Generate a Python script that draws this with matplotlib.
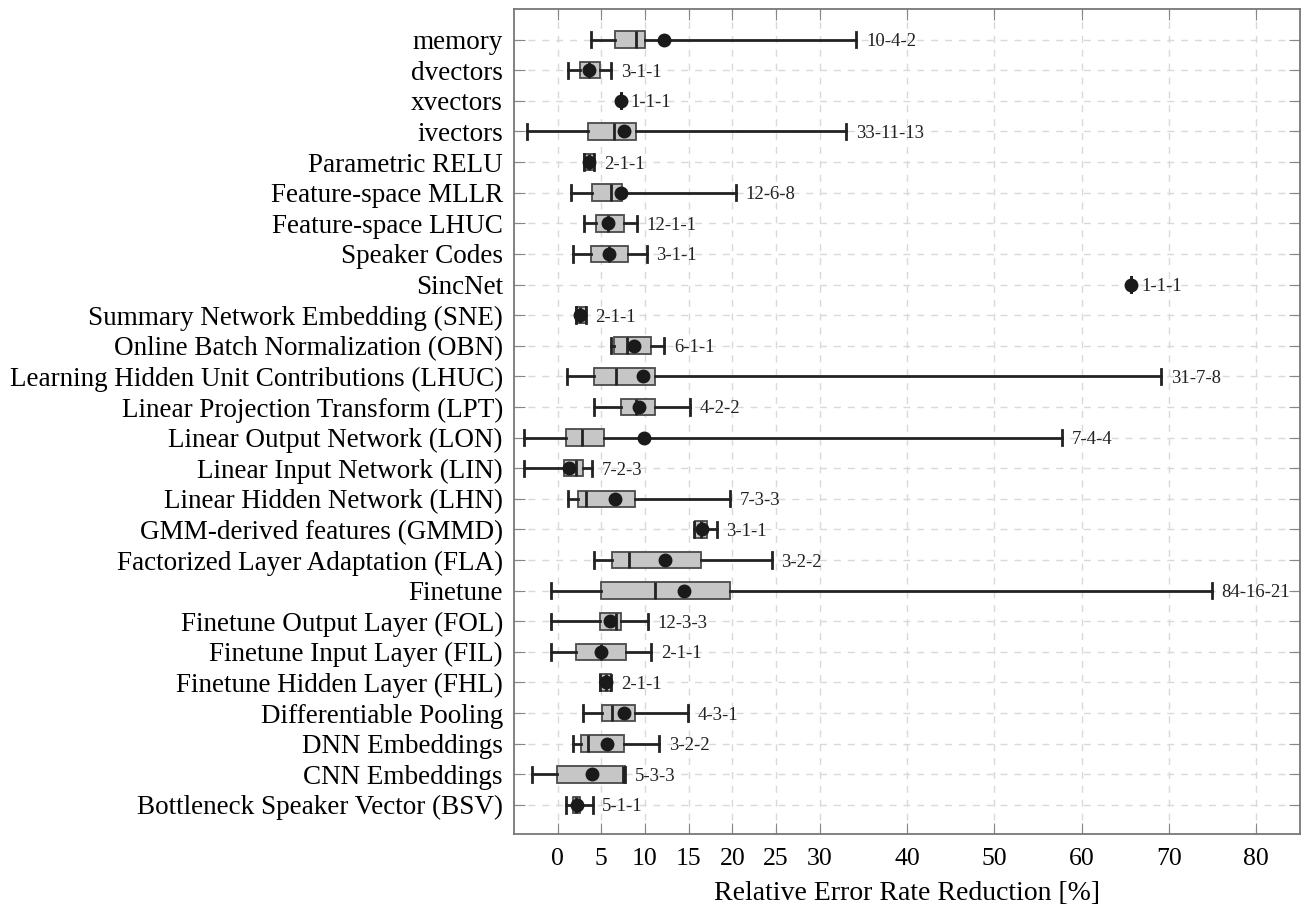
import matplotlib
matplotlib.use("Agg")
import matplotlib.pyplot as plt

categories = [
    "memory", "dvectors", "xvectors", "ivectors", "Parametric RELU",
    "Feature-space MLLR", "Feature-space LHUC", "Speaker Codes", "SincNet",
    "Summary Network Embedding (SNE)", "Online Batch Normalization (OBN)",
    "Learning Hidden Unit Contributions (LHUC)", "Linear Projection Transform (LPT)",
    "Linear Output Network (LON)", "Linear Input Network (LIN)",
    "Linear Hidden Network (LHN)", "GMM-derived features (GMMD)",
    "Factorized Layer Adaptation (FLA)", "Finetune", "Finetune Output Layer (FOL)",
    "Finetune Input Layer (FIL)", "Finetune Hidden Layer (FHL)",
    "Differentiable Pooling", "DNN Embeddings", "CNN Embeddings",
    "Bottleneck Speaker Vector (BSV)",
]
whislo = [3.8, 1.2, 7.2, -3.5, 3.0, 1.5, 3.0, 1.8, 65.7, 2.1, 6.1, 1.1, 4.2,
          -3.9, -3.9, 1.2, 15.6, 4.2, -0.8, -0.8, -0.8, 4.8, 2.9, 1.8, -2.9, 1.0]
q1 = [6.6, 2.5, 7.2, 3.5, 3.0, 3.9, 4.4, 3.8, 65.7, 2.1, 6.5, 4.2, 7.2,
      0.9, 0.7, 2.3, 15.7, 6.2, 5.0, 4.9, 2.1, 4.8, 5.1, 2.7, -0.1, 1.7]
med = [9.0, 3.6, 7.2, 6.5, 3.6, 6.1, 5.8, 5.9, 65.7, 2.6, 7.9, 6.7, 9.0,
       2.8, 2.1, 3.3, 16.4, 8.2, 11.1, 6.7, 5.0, 5.5, 6.2, 3.5, 7.5, 2.1]
q3 = [10.0, 4.9, 7.2, 9.0, 4.2, 7.4, 7.6, 8.0, 65.7, 3.2, 10.7, 11.2, 11.1,
      5.3, 2.9, 8.8, 17.1, 16.4, 19.7, 7.3, 7.8, 6.1, 8.8, 7.6, 7.7, 2.5]
whishi = [34.2, 6.1, 7.2, 33.0, 4.2, 20.4, 9.1, 10.2, 65.7, 3.2, 12.2, 69.1, 15.1,
          57.7, 3.9, 19.7, 18.2, 24.5, 74.9, 10.3, 10.7, 6.1, 14.9, 11.6, 7.7, 4.0]
means = [12.2, 3.6, 7.2, 7.6, 3.6, 7.3, 5.8, 5.9, 65.7, 2.6, 8.7, 9.8, 9.3,
         9.9, 1.3, 6.6, 16.5, 12.3, 14.5, 6.0, 5.0, 5.5, 7.6, 5.7, 3.9, 2.2]
counts = ["10-4-2", "3-1-1", "1-1-1", "33-11-13", "2-1-1", "12-6-8", "12-1-1",
          "3-1-1", "1-1-1", "2-1-1", "6-1-1", "31-7-8", "4-2-2", "7-4-4", "7-2-3",
          "7-3-3", "3-1-1", "3-2-2", "84-16-21", "12-3-3", "2-1-1", "2-1-1",
          "4-3-1", "3-2-2", "5-3-3", "5-1-1"]
xticks = [0, 5, 10, 15, 20, 25, 30, 40, 50, 60, 70, 80]

plt.rcParams['font.family'] = ['Liberation Serif', 'DejaVu Serif']

fig = plt.figure(figsize=(13.06, 9.06), dpi=100)
ax = fig.add_axes([514/1306, 1-834/906, (1300-514)/1306, (834-9)/906])

n = len(categories)
positions = [n - i for i in range(n)]
stats = []
for i in range(n):
    stats.append(dict(whislo=whislo[i], q1=q1[i], med=med[i], q3=q3[i],
                      whishi=whishi[i], mean=means[i], fliers=[]))

ax.bxp(stats, positions=positions, orientation='horizontal', widths=0.54,
       capwidths=0.5, showmeans=True, patch_artist=True,
       boxprops=dict(facecolor='#c6c6c6', edgecolor='#4a4a4a', linewidth=1.3),
       medianprops=dict(color='#222222', linewidth=2.0),
       whiskerprops=dict(color='#222222', linewidth=2.0),
       capprops=dict(color='#222222', linewidth=2.0),
       meanprops=dict(marker='o', markerfacecolor='#1a1a1a', markeredgecolor='#1a1a1a',
                      markersize=9),
       zorder=3)

for i in range(n):
    ax.annotate(counts[i], xy=(whishi[i], positions[i]), xytext=(7, 0),
                textcoords='offset points', va='center_baseline', ha='left',
                fontsize=13.5, color='#222222', zorder=4)

ax.set_xlim(-5, 85)
ax.set_ylim(0.05, n + 1.0)
ax.set_xticks(xticks)
ax.set_xticklabels([str(t) for t in xticks], fontsize=18.5)
ax.set_yticks(positions)
ax.set_yticklabels(categories, fontsize=19.5)
ax.set_xlabel("Relative Error Rate Reduction [%]", fontsize=20, labelpad=8)

ax.grid(True, linestyle=(0, (5, 5)), color='#d9d9d9', linewidth=1.0, zorder=0)
ax.set_axisbelow(True)
ax.tick_params(axis='y', which='both', direction='in', left=True, right=True,
               length=8, color='#888888', pad=8)
ax.tick_params(axis='x', which='both', direction='in', top=True, bottom=True,
               length=8, color='#888888', pad=10)
for s in ax.spines.values():
    s.set_color('#777777')
    s.set_linewidth(1.3)

fig.savefig("out.png", dpi=100)
